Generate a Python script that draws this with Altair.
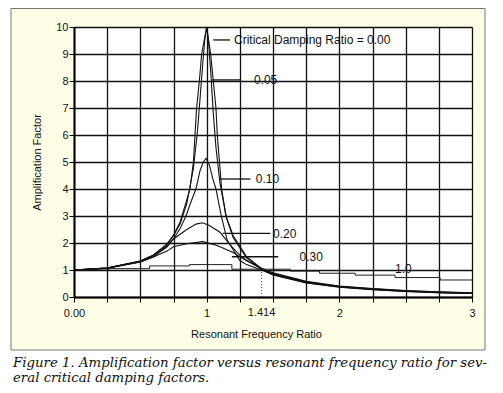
import altair as alt
import pandas as pd

# ---- curve data (frequency ratio r, amplification A) ----
r_000 = [0, 0.25, 0.5, 0.6, 0.7, 0.75, 0.8, 0.85, 0.874, 0.9, 0.924, 0.945, 0.962, 1.0,
         1.03, 1.05, 1.07, 1.08, 1.113, 1.145, 1.2, 1.3, 1.414, 1.5, 1.75, 2.0, 2.25, 2.5, 2.75, 3.0]
a_000 = [1.0, 1.07, 1.33, 1.56, 1.96, 2.29, 2.78, 3.6, 4.0, 5.0, 7.0, 8.0, 9.0, 10.0,
         9.0, 8.0, 7.0, 6.0, 4.0, 3.0, 2.27, 1.5, 1.05, 0.85, 0.55, 0.38, 0.29, 0.22, 0.17, 0.14]

r_005 = [0, 0.25, 0.5, 0.6, 0.7, 0.75, 0.8, 0.85, 0.9, 0.93, 0.95, 0.97, 0.985, 1.0,
         1.015, 1.03, 1.05, 1.07, 1.1, 1.15, 1.2, 1.3, 1.414, 1.5, 1.75, 2.0, 2.25, 2.5, 2.75, 3.0]
a_005 = [1.0, 1.07, 1.33, 1.56, 1.94, 2.27, 2.71, 3.45, 4.76, 6.1, 7.35, 8.6, 9.5, 10.0,
         9.4, 8.4, 6.8, 5.55, 4.22, 2.92, 2.19, 1.45, 1.03, 0.83, 0.53, 0.37, 0.28, 0.21, 0.16, 0.13]

r_010 = [0, 0.25, 0.5, 0.6, 0.7, 0.75, 0.8, 0.844, 0.88, 0.919, 0.95, 0.975, 0.995,
         1.02, 1.045, 1.07, 1.11, 1.155, 1.2, 1.25, 1.3, 1.414, 1.5, 1.75, 2.0, 2.25, 2.5, 2.75, 3.0]
a_010 = [1.0, 1.07, 1.32, 1.54, 1.89, 2.15, 2.54, 3.0, 3.5, 4.0, 4.68, 5.0, 5.14,
         4.9, 4.4, 4.0, 3.0, 2.1, 1.75, 1.35, 1.2, 1.0, 0.82, 0.52, 0.36, 0.27, 0.21, 0.16, 0.13]

r_020 = [0, 0.25, 0.5, 0.6, 0.7, 0.75, 0.85, 0.92, 0.97, 1.02, 1.1, 1.15, 1.2, 1.25,
         1.3, 1.414, 1.5, 1.75, 2.0, 2.25, 2.5, 2.75, 3.0]
a_020 = [1.0, 1.07, 1.3, 1.5, 1.85, 2.15, 2.5, 2.7, 2.75, 2.65, 2.4, 2.1, 1.8, 1.55,
         1.35, 1.05, 0.87, 0.56, 0.39, 0.3, 0.23, 0.18, 0.15]

r_030 = [0, 0.25, 0.5, 0.6, 0.7, 0.75, 0.85, 0.97, 1.05, 1.1, 1.2, 1.25, 1.3, 1.41,
         1.5, 1.75, 2.0, 2.25, 2.5, 2.75, 3.0]
a_030 = [1.0, 1.07, 1.3, 1.48, 1.7, 1.86, 1.97, 2.05, 1.95, 1.86, 1.65, 1.49, 1.35, 1.07,
         0.9, 0.58, 0.41, 0.31, 0.24, 0.19, 0.16]

r_100 = [0, 0.26, 0.57, 0.87, 1.19, 1.63, 1.85, 2.12, 2.42, 2.76, 3.0]
a_100 = [1.0, 1.05, 1.15, 1.2, 1.03, 0.96, 0.88, 0.81, 0.72, 0.63, 0.63]

# ---- annotations ----
label_text = ["Critical Damping Ratio = 0.00", "0.05", "0.10", "0.20", "0.30", "1.0"]
label_x = [1.206, 1.356, 1.37, 1.50, 1.70, 2.42]
label_y = [9.52, 8.04, 4.37, 2.33, 1.48, 1.04]
leader_x1 = [1.05, 1.04, 1.10, 1.12, 1.19]
leader_x2 = [1.175, 1.26, 1.33, 1.48, 1.54]
leader_y = [9.52, 8.04, 4.37, 2.36, 1.49]

x_grid = [0, 0.25, 0.5, 0.75, 1, 1.25, 1.5, 1.75, 2, 2.25, 2.5, 2.75, 3]
y_grid = list(range(0, 11))
special_tick = 1.414
caption = ["Figure 1. Amplification factor versus resonant frequency ratio for sev-",
           "eral critical damping factors."]

W, H = 398, 270
SANS = "Liberation Sans"

rows = []
for name, rs, vals in [("0.00", r_000, a_000), ("0.05", r_005, a_005), ("0.10", r_010, a_010),
                       ("0.20", r_020, a_020), ("0.30", r_030, a_030)]:
    for i, (x, y) in enumerate(zip(rs, vals)):
        rows.append({"ratio": name, "r": x, "a": y, "o": i})
curves = pd.DataFrame(rows)
step_df = pd.DataFrame({"ratio": "1.0", "r": r_100, "a": a_100, "o": range(len(r_100))})

xaxis = alt.Axis(values=x_grid, title="Resonant Frequency Ratio",
                 labelExpr="datum.value == 0 ? '0.00' : (datum.value == 1 || datum.value == 2 || datum.value == 3) ? format(datum.value, 'd') : ''",
                 grid=True, gridColor="#111111", gridWidth=1.3, domainColor="#000000", domainWidth=2,
                 tickColor="#000000", tickSize=5, labelPadding=5, labelFont=SANS, labelFontSize=11,
                 labelColor="#111111", titleFont=SANS, titleFontSize=11, titleFontWeight="normal",
                 titleColor="#111111", titleX=182, titleY=40, titleAlign="center",
                 titleBaseline="alphabetic", labelFlush=False, zindex=1)
yaxis = alt.Axis(values=y_grid, title="Amplification Factor", grid=True, gridColor="#111111",
                 gridWidth=1.3, domainColor="#000000", domainWidth=2, tickColor="#000000", tickSize=5,
                 labelPadding=1, labelFont=SANS, labelFontSize=11, labelColor="#111111",
                 titleFont=SANS, titleFontSize=11, titleFontWeight="normal", titleColor="#111111",
                 titleX=-37, titleY=135, titleAngle=270, titleAlign="center", titleBaseline="middle",
                 zindex=1)

X = alt.X("r:Q", scale=alt.Scale(domain=[0, 3], nice=False, zero=False), axis=xaxis)
Y = alt.Y("a:Q", scale=alt.Scale(domain=[0, 10], nice=False), axis=yaxis)

one = pd.DataFrame({"k": [0]})
frame = alt.Chart(one).mark_rect(fill="#FFFFE8", stroke="#777777", strokeWidth=1).encode(
    x=alt.value(-63), x2=alt.value(411), y=alt.value(-18.5), y2=alt.value(323))
plotbg = alt.Chart(one).mark_rect(fill="#FFFFFF").encode(
    x=alt.value(0), x2=alt.value(W), y=alt.value(0), y2=alt.value(H))

lines = alt.Chart(curves).mark_line(color="#111111", strokeWidth=1.1).encode(
    x=X, y=Y, detail="ratio:N", order="o:Q")
step = alt.Chart(step_df).mark_line(color="#222222", strokeWidth=1, interpolate="step-after").encode(
    x=X, y=Y, order="o:Q")

leaders = alt.Chart(pd.DataFrame({"r": leader_x1, "r2": leader_x2, "a": leader_y})).mark_rule(
    color="#111111", strokeWidth=1.3).encode(x=X, x2="r2:Q", y=Y)
labels = alt.Chart(pd.DataFrame({"r": label_x, "a": label_y, "t": label_text})).mark_text(
    align="left", baseline="middle", font=SANS, fontSize=12, color="#111111").encode(
    x=X, y=Y, text="t:N")

dotted = alt.Chart(pd.DataFrame({"r": [special_tick], "a": [0], "a2": [1]})).mark_rule(
    color="#555555", strokeWidth=1, strokeDash=[1, 2]).encode(x=X, y=Y, y2="a2:Q")
tick_lbl = alt.Chart(pd.DataFrame({"r": [special_tick], "t": [str(special_tick)]})).mark_text(
    align="center", baseline="top", font=SANS, fontSize=11, color="#111111").encode(
    x=X, y=alt.value(H + 10), text="t:N")

cap1 = alt.Chart(one).mark_text(align="left", baseline="alphabetic", font="DejaVu Serif",
                                fontStyle="italic", fontSize=13.3, color="#111111",
                                text=caption[0]).encode(x=alt.value(-61), y=alt.value(340))
cap2 = alt.Chart(one).mark_text(align="left", baseline="alphabetic", font="DejaVu Serif",
                                fontStyle="italic", fontSize=13.3, color="#111111",
                                text=caption[1]).encode(x=alt.value(-61), y=alt.value(355))

chart = alt.layer(frame, plotbg, lines, step, leaders, labels, dotted, tick_lbl, cap1, cap2).properties(
    width=W, height=H, autosize=alt.AutoSizeParams(type="none"),
    padding={"left": 66, "top": 19, "right": 23, "bottom": 88}, background="#FFFFFF"
).configure_view(stroke=None)

chart.save("out.html", embed_options={"renderer": "svg", "actions": False})
